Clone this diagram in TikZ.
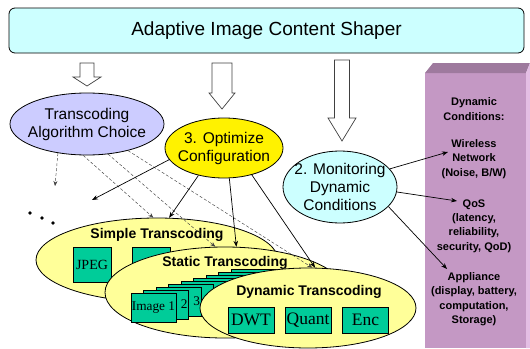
\documentclass[tikz,border=0pt]{standalone}
\usepackage{fontspec}
\setmainfont{Liberation Sans}
\newfontfamily\seriffont{Liberation Serif}
\usetikzlibrary{shapes.geometric, arrows, arrows.meta}
\definecolor{bannercyan}{HTML}{CCFFFF}
\definecolor{choiceblue}{HTML}{CCCCFF}
\definecolor{layeryellow}{HTML}{FFFF99}
\definecolor{blockgreen}{HTML}{00CC99}
\definecolor{plumfront}{RGB}{196,152,196}
\definecolor{plumtop}{RGB}{158,122,158}
\definecolor{plumside}{RGB}{228,190,228}
\tikzstyle{bubble} = [ellipse, draw=black, line width=0.8pt, inner sep=-12pt, align=center, font=\fontsize{15.5}{18}\selectfont]
\tikzstyle{layer} = [ellipse, draw=black, line width=0.8pt, fill=layeryellow, inner sep=0pt]
\tikzstyle{layertitle} = [inner sep=0pt, font=\fontsize{14}{16}\selectfont\bfseries]
\tikzstyle{block} = [rectangle, draw=black, line width=0.7pt, fill=blockgreen, inner sep=0pt, minimum width=46pt, minimum height=26pt, font=\seriffont\fontsize{17.5}{18}\selectfont]
\tikzstyle{imgbox} = [rectangle, draw=black, line width=0.7pt, fill=blockgreen, inner sep=0pt, minimum width=45pt, minimum height=29pt, font=\seriffont\fontsize{13.3}{14}\selectfont]
\tikzstyle{cond} = [inner sep=0pt, align=center, font=\fontsize{11}{14.4}\selectfont\bfseries]
\tikzstyle{hollow} = [draw=black!75, line width=0.7pt, fill=white]
\tikzstyle{arrow} = [line width=0.7pt, ->, >={Stealth[length=6pt, width=4.5pt]}]
\tikzstyle{hint} = [line width=0.45pt, densely dashed, draw=black!75, ->, >={Stealth[length=5pt, width=4pt]}]

\begin{document}
\begin{tikzpicture}[x=1pt, y=-1pt]
    \useasboundingbox (0,0) rectangle (530,348);
    % dynamic conditions column
    \fill [plumfront] (425,73) rectangle (526,348);
    \fill [plumtop] (425,73) -- (433,63) -- (530,63) -- (526,73) -- cycle;
    \fill [plumside] (526,73) -- (530,63) -- (530,348) -- (526,348) -- cycle;
    \node (dyncond) [cond] at (474,109) {Dynamic\\Conditions:};
    \node (wireless) [cond] at (474,159) {Wireless\\Network\\(Noise, B/W)};
    \node (qos) [cond] at (474,226) {QoS\\(latency,\\reliability,\\security, QoD)};
    \node (appliance) [cond] at (474,299) {Appliance\\(display, battery,\\computation,\\Storage)};
    % banner
    \node (shaper) [rectangle, rounded corners=6pt, draw=black, line width=0.8pt, fill=bannercyan, minimum width=515pt, minimum height=45pt, font=\fontsize{19}{22}\selectfont] at (266.5,30.5) {Adaptive Image Content Shaper};
    \draw [hollow] (80,63) -- (94,63) -- (94,77) -- (101,77) -- (87,86) -- (73,77) -- (80,77) -- cycle;
    \draw [hollow] (212,63) -- (232,63) -- (232,93) -- (235,93) -- (222,109) -- (209,93) -- (212,93) -- cycle;
    \draw [hollow] (334.5,60) -- (349.5,60) -- (349.5,118) -- (356,118) -- (342,141) -- (328,118) -- (334.5,118) -- cycle;
    % bubbles
    \node (alg) [bubble, fill=choiceblue, minimum width=154pt, minimum height=62pt] at (87,124) {Transcoding\\Algorithm Choice};
    \node (opt) [bubble, fill=yellow, minimum width=118pt, minimum height=60pt] at (224,148) {3. Optimize\\Configuration};
    \node (mon) [bubble, fill=bannercyan, minimum width=114pt, minimum height=72pt] at (340,187) {2. Monitoring\\Dynamic\\Conditions};
    \fill (30,213) circle (1.8pt) (42,218) circle (1.8pt) (53,223) circle (1.8pt);
    % transcoding layers
    \node (simple) [layer, minimum width=242pt, minimum height=84pt] at (157,260) {};
    \node (simpletitle) [layertitle] at (157,235) {Simple Transcoding};
    \node (jpeg) [block, minimum width=38pt, minimum height=35pt, font=\seriffont\fontsize{14}{16}\selectfont] at (92,264.5) {JPEG};
    \node (codec) [block, minimum width=38pt, minimum height=35pt] at (151,264.5) {};
    \node (static) [layer, minimum width=240pt, minimum height=91pt] at (225,292.5) {};
    \node (statictitle) [layertitle] at (225,263) {Static Transcoding};
    \node (img9) [imgbox] at (253.5,283.5) {};
    \node (img8) [imgbox] at (241,286.5) {};
    \node (img7) [imgbox] at (228.5,289.5) {};
    \node (img6) [imgbox] at (216,292.5) {};
    \node (img5) [imgbox] at (203.5,295.5) {};
    \node (img4) [imgbox] at (191,298.5) {};
    \node (img3) [imgbox, text width=43pt, align=right] at (178.5,301.5) {3};
    \node (img2) [imgbox, text width=43pt, align=right] at (166,304.5) {2};
    \node (img1) [imgbox] at (153.5,307.5) {Image 1};
    \node (dynamic) [layer, minimum width=216pt, minimum height=80pt] at (308,308) {};
    \node (dynamictitle) [layertitle] at (309,292) {Dynamic Transcoding};
    \node (dwt) [block] at (251,320) {DWT};
    \node (quant) [block] at (308,320) {Quant};
    \node (enc) [block] at (365.5,320) {Enc};
    % free ends
    \coordinate (more) at (55,186);
    \coordinate (other) at (92,200);
    \coordinate (wlend) at (448,152);
    \coordinate (qosend) at (457,201);
    \coordinate (append) at (447,269);
    \draw [hint] (alg.225) -- (more);
    \draw [hint] (alg.263) -- (simple.95);
    \draw [hint] (alg.305) -- (static.102);
    \draw [hint] (alg.327) -- (dynamic.84);
    \draw [arrow] (opt.192) -- (other);
    \draw [arrow] (opt.227) -- (simple.74);
    \draw [arrow] (opt.280) -- (static.76);
    \draw [arrow] (opt.316) -- (dynamic.80);
    \draw [arrow] (mon.20) -- (wlend);
    \draw [arrow] (mon.355) -- (qosend);
    \draw [arrow] (mon.338) -- (append);
\end{tikzpicture}
\end{document}
